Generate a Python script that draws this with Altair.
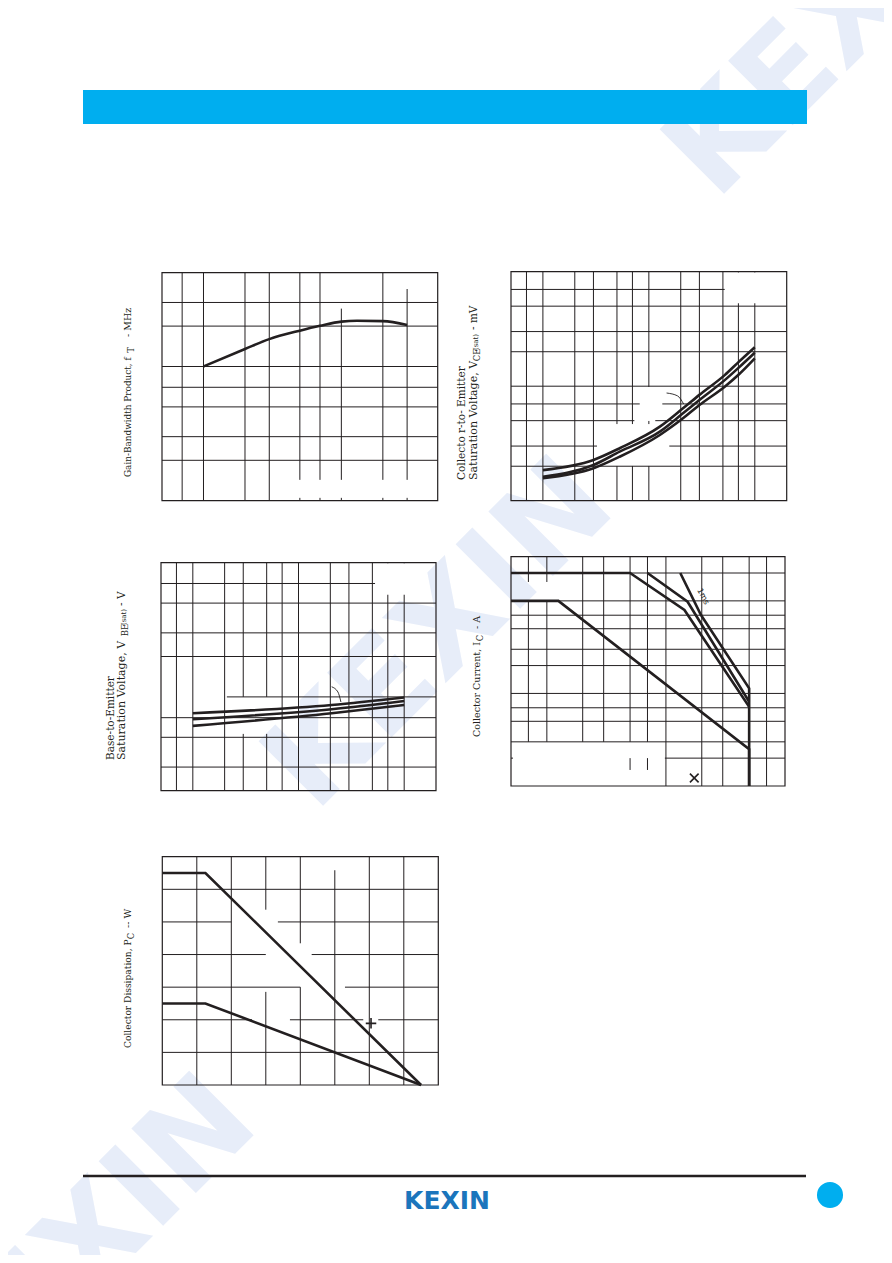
import altair as alt
import pandas as pd

INK = "#231f20"
OFF = 8  # page margin

# ---------------- data ----------------
# Panel 1: gain-bandwidth product fT (MHz) vs collector current (log/log)
p1_ic = [1, 2, 3, 5, 7, 10, 13, 20, 30]
p1_ft = [100, 135, 160, 185, 201, 216, 219, 218, 204]

# Panel 2: VCE(sat) (mV) vs IC, three curves
p2_ic = [1, 3, 5.3, 12.7, 21, 30, 52, 71, 100]
p2_top = [18.5, 22.7, 28.7, 44.3, 64.1, 84, 125, 164, 219]
p2_mid = [16.2, 20.5, 26.8, 40.1, 58, 75.8, 113, 146, 196]
p2_bot = [15.7, 19.2, 24.2, 37.5, 52.4, 68.5, 99, 127, 175]
p2_lead_x = [14.7, 18.7, 21.3]
p2_lead_y = [87.2, 82.2, 69.9]

# Panel 3: VBE(sat) (V) vs IC, three curves
p3_ic = [1, 20.6, 100]
p3_top = [0.756, 0.870, 0.990]
p3_mid = [0.682, 0.809, 0.932]
p3_bot = [0.608, 0.755, 0.870]
p3_lead_x = [20.6, 23.6, 25.2]
p3_lead_y = [1.19, 1.088, 0.916]

# Panel 4: safe operating area, IC (A) vs VCE (V)
p4_a_x = [0.5, 1.25, 50, 50]
p4_a_y = [1, 1, 0.025, 0.01]
p4_b_x = [0.5, 5, 14.3, 50]
p4_b_y = [2, 2, 0.796, 0.0719]
p4_c_x = [7, 15.2, 50]
p4_c_y = [2, 0.979, 0.0814]
p4_d_x = [13.2, 19.7, 50, 50]
p4_d_y = [2, 0.703, 0.1136, 0.01]

# Panel 5: collector dissipation PC (W) vs ambient temperature
p5_ta = [0, 25, 150]
p5_hi = [1.3, 1.3, 0]
p5_lo = [0.5, 0.5, 0]

# grid values
LOGX_A = [0.7, 1, 2, 3, 5, 7, 10, 20, 30]
LOGX_B = [0.7, 1, 2, 3, 5, 7, 10, 20, 30, 50, 70, 100]
LOGX_C = [0.7, 1, 2, 3, 5, 7, 10, 20, 30, 50, 70]
P1_H = [20, 30, 50, 70, 100, 200, 300]
P2_H = [20, 30, 50, 70, 100, 200, 300, 500, 700]
P3_H = [0.3, 0.5, 0.7, 1, 2, 3, 5, 7]
P4_H = [0.02, 0.03, 0.05, 0.07, 0.1, 0.2, 0.3, 0.5, 0.7, 1, 2]
P5_V = [20, 40, 60, 80, 100, 120, 140]
P5_H = [0.2, 0.4, 0.6, 0.8, 1.0, 1.2]

PLUS = "M-1,0L1,0M0,-1L0,1"
TIMES = "M-1,-1L1,1M-1,1L1,-1"


def segments(values, lo, hi, gaps):
    rows = []
    for v in values:
        pieces = [(lo, hi)]
        for g0, g1 in gaps.get(v, []):
            new = []
            for a, b in pieces:
                if g1 <= a or g0 >= b:
                    new.append((a, b))
                    continue
                if g0 > a:
                    new.append((a, g0))
                if g1 < b:
                    new.append((g1, b))
            pieces = new
        for a, b in pieces:
            rows.append({"v": v, "a": a, "b": b})
    return pd.DataFrame(rows)


def curves_df(series):
    rows = []
    for name, xs, ys in series:
        for i, (x, y) in enumerate(zip(xs, ys)):
            rows.append({"s": name, "o": i, "x": x, "y": y})
    return pd.DataFrame(rows)


def panel(box, xdom, ydom, xtype, ytype, vgrid, hgrid, vgaps, hgaps,
          series, interp="linear", thin=None, texts=None, marks=None):
    left, top, right, bottom = box
    xs = alt.Scale(type=xtype, domain=xdom, range=[left - OFF, right - OFF], nice=False)
    ys = alt.Scale(type=ytype, domain=ydom, range=[bottom - OFF, top - OFF], nice=False)
    layers = []
    vdf = segments(vgrid, ydom[0], ydom[1], vgaps)
    layers.append(alt.Chart(vdf).mark_rule(color=INK, strokeWidth=1).encode(
        x=alt.X("v:Q", scale=xs, axis=None),
        y=alt.Y("a:Q", scale=ys, axis=None), y2="b:Q"))
    hdf = segments(hgrid, xdom[0], xdom[1], hgaps)
    layers.append(alt.Chart(hdf).mark_rule(color=INK, strokeWidth=1).encode(
        y=alt.Y("v:Q", scale=ys, axis=None),
        x=alt.X("a:Q", scale=xs, axis=None), x2="b:Q"))
    frame = pd.DataFrame([{"x0": xdom[0], "x1": xdom[1], "y0": ydom[0], "y1": ydom[1]}])
    layers.append(alt.Chart(frame).mark_rect(fillOpacity=0, stroke=INK, strokeWidth=1.2).encode(
        x=alt.X("x0:Q", scale=xs, axis=None), x2="x1:Q",
        y=alt.Y("y0:Q", scale=ys, axis=None), y2="y1:Q"))
    layers.append(alt.Chart(curves_df(series)).mark_line(
        color=INK, strokeWidth=2.6, strokeJoin="miter", interpolate=interp).encode(
        x=alt.X("x:Q", scale=xs, axis=None),
        y=alt.Y("y:Q", scale=ys, axis=None),
        detail="s:N", order="o:Q"))
    if thin:
        layers.append(alt.Chart(curves_df(thin)).mark_line(
            color=INK, strokeWidth=0.9, interpolate="monotone").encode(
            x=alt.X("x:Q", scale=xs, axis=None),
            y=alt.Y("y:Q", scale=ys, axis=None),
            detail="s:N", order="o:Q"))
    if texts:
        for t in texts:
            layers.append(alt.Chart(pd.DataFrame([t])).mark_text(
                font="DejaVu Sans", fontSize=t["size"], angle=t["angle"], color=INK,
                baseline="middle", align="center").encode(
                x=alt.X("x:Q", scale=xs, axis=None),
                y=alt.Y("y:Q", scale=ys, axis=None),
                text="t:N"))
    if marks:
        for m in marks:
            layers.append(alt.Chart(pd.DataFrame([m])).mark_point(
                shape=m["shape"], filled=False, stroke=INK, strokeWidth=1.6,
                size=m["size"], opacity=1).encode(
                x=alt.X("x:Q", scale=xs, axis=None),
                y=alt.Y("y:Q", scale=ys, axis=None)))
    return alt.layer(*layers)


p1 = panel((162, 272.7, 437.7, 500.7), [0.5, 50], [10, 500], "log", "log",
           LOGX_A, P1_H,
           {5: [(10.5, 14.3)], 7: [(10.5, 14.3)], 10: [(10.5, 14.3), (270, 500)],
            20: [(10.5, 14.3)], 30: [(10.5, 14.3), (378, 500)]},
           {},
           [("ft", p1_ic, p1_ft)], interp="monotone")

p2 = panel((511, 271.7, 786.7, 500.7), [0.5, 200], [10, 1000], "log", "log",
           LOGX_B, P2_H,
           {5: [(20.1, 46.7)], 7: [(20.1, 46.7)], 10: [(20.1, 46.7), (49.7, 98.5)],
            70: [(530, 985)], 100: [(530, 985)]},
           {700: [(52, 200)], 30: [(3.24, 15.6)], 70: [(8.2, 13.4)], 50: [(7.3, 11.5)]},
           [("a", p2_ic, p2_top), ("b", p2_ic, p2_mid), ("c", p2_ic, p2_bot)],
           interp="monotone",
           thin=[("lead", p2_lead_x, p2_lead_y)])

p3 = panel((161, 562.7, 436, 790.7), [0.5, 200], [0.2, 10], "log", "log",
           LOGX_B, P3_H,
           {3: [(0.53, 1.0)], 5: [(0.53, 1.0)], 70: [(5.77, 9.9)], 100: [(5.77, 9.9)]},
           {7: [(53, 200)], 1: [(0.5, 2.1)]},
           [("a", p3_ic, p3_top), ("b", p3_ic, p3_mid), ("c", p3_ic, p3_bot)],
           interp="monotone",
           thin=[("lead", p3_lead_x, p3_lead_y)])

p4 = panel((511, 556.7, 785, 786), [0.5, 100], [0.01, 3], "log", "log",
           LOGX_C, P4_H,
           {0.7: [(0.01, 0.03), (1.02, 1.6)], 1: [(0.01, 0.03), (1.02, 1.6)],
            2: [(0.01, 0.03)], 3: [(0.01, 0.03)],
            5: [(0.01, 0.0149), (0.02, 0.03)], 7: [(0.01, 0.0149), (0.02, 0.03)]},
           {0.02: [(0.52, 9.8)]},
           [("a", p4_a_x, p4_a_y), ("b", p4_b_x, p4_b_y),
            ("c", p4_c_x, p4_c_y), ("d", p4_d_x, p4_d_y)],
           texts=[{"x": 20.4, "y": 1.11, "t": "1ms", "size": 8, "angle": 62}],
           marks=[{"x": 17.3, "y": 0.0122, "shape": TIMES, "size": 75}])

p5 = panel((162.3, 856.7, 438.3, 1085), [0, 160], [0, 1.4], "linear", "linear",
           P5_V, P5_H,
           {60: [(0.571, 1.075)], 80: [(0.60, 0.869)], 100: [(1.317, 1.4)]},
           {1.0: [(40, 67)], 0.8: [(60, 86.6)], 0.6: [(80, 105.9)],
            0.4: [(52, 74), (116.5, 125.2)]},
           [("hi", p5_ta, p5_hi), ("lo", p5_ta, p5_lo)],
           marks=[{"x": 121, "y": 0.378, "shape": PLUS, "size": 110}])

# ---------------- page decoration ----------------
one = pd.DataFrame([{"k": 1}])
WM = "#e7edf9"


def wm(cx, cy):
    return alt.Chart(one).mark_text(text="KEXIN", font="DejaVu Sans", fontWeight="bold",
                                    fontSize=125, angle=315, color=WM,
                                    align="center", baseline="middle").encode(
        x=alt.value(cx - OFF), y=alt.value(cy - OFF))


header = alt.Chart(one).mark_rect(color="#00aeef").encode(
    x=alt.value(83 - OFF), x2=alt.value(807 - OFF), y=alt.value(90 - OFF), y2=alt.value(124 - OFF))
footer = alt.Chart(one).mark_rule(color=INK, strokeWidth=2.5).encode(
    x=alt.value(83 - OFF), x2=alt.value(806 - OFF), y=alt.value(1176 - OFF))
logo = alt.Chart(one).mark_text(text="KEXIN", font="DejaVu Sans", fontWeight="bold",
                                fontSize=25, color="#1b75bc", align="center",
                                baseline="middle").encode(
    x=alt.value(447 - OFF), y=alt.value(1201 - OFF))
dot = alt.Chart(one).mark_circle(color="#00aeef", opacity=1, size=680).encode(
    x=alt.value(830 - OFF), y=alt.value(1195 - OFF))


def label(txt, x, y, size=10.5, align="left"):
    return alt.Chart(one).mark_text(text=txt, font="DejaVu Serif", fontSize=size,
                                    angle=270, color=INK, align=align,
                                    baseline="middle").encode(
        x=alt.value(x - OFF), y=alt.value(y - OFF))


titles = [
    label("Gain-Bandwidth Product, f", 128, 477, 8.9),
    label("T", 131, 350, 8.5, "center"),
    label("-  MHz", 128, 337, 9.5),
    label("Collecto r-to- Emitter", 462, 480, 10.5),
    label("Saturation Voltage, V", 474, 480, 11),
    label("CE", 476.5, 355, 8.5, "center"),
    label("(sat)", 476, 342, 7, "center"),
    label("-  mV", 474, 330),
    label("Base-to-Emitter", 111, 760, 10.5),
    label("Saturation Voltage, V", 122, 760, 11),
    label("BE", 124.5, 630, 8.5, "center"),
    label("(sat)", 124, 617, 7, "center"),
    label("-  V", 122, 606),
    label("Collector Current, I", 477, 737, 9.5),
    label("C", 479.5, 638, 8.5, "center"),
    label("-  A", 477, 629, 9.5),
    label("Collector Dissipation, P", 128, 1048, 9.1),
    label("C", 130.5, 936, 8.5, "center"),
    label("--  W", 128, 928, 9.5),
]

chart = alt.layer(
    wm(440, 635), wm(83, 1252), wm(841, 23),
    header, footer, logo, dot,
    p1, p2, p3, p4, p5,
    *titles,
).resolve_scale(x="independent", y="independent").properties(
    width=876, height=1247, padding=0, autosize="none", background="white"
).configure_view(strokeWidth=0)

chart.save("out.html", embed_options={"renderer": "svg", "actions": False})
